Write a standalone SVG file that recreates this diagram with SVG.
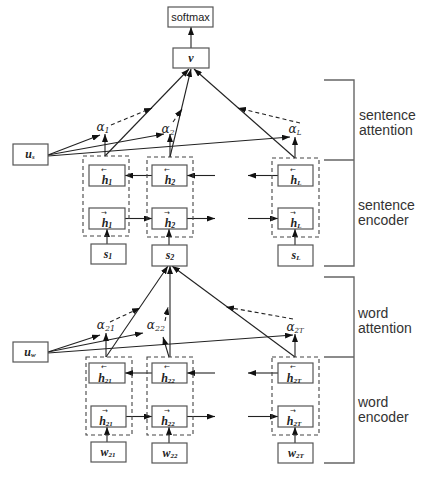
<svg xmlns="http://www.w3.org/2000/svg" width="430" height="478" viewBox="0 0 430 478">
<defs>
<marker id="ah" markerWidth="8" markerHeight="6" refX="8" refY="3" orient="auto" markerUnits="userSpaceOnUse">
<path d="M0,0 L8,3 L0,6 z" fill="#111"/>
</marker>
<style>
.box{fill:#fff;stroke:#555;stroke-width:1.2}
.dbox{fill:none;stroke:#444;stroke-width:1.1;stroke-dasharray:4,3}
.ln{stroke:#222;stroke-width:1.1;fill:none;marker-end:url(#ah)}
.dl{stroke:#222;stroke-width:1.1;fill:none;stroke-dasharray:4,3;marker-end:url(#ah)}
.br{stroke:#666;stroke-width:1.4;fill:none}
.m{font-family:"Liberation Serif","DejaVu Serif",serif;font-style:italic;font-weight:bold;font-size:12px;fill:#222;text-anchor:middle}
.ar{font-family:"DejaVu Sans",sans-serif;font-style:normal;font-weight:normal;font-size:7px}
.a{font-family:"DejaVu Serif","Liberation Serif",serif;font-style:italic;font-size:12px;fill:#222;text-anchor:middle}
.s{font-family:"Liberation Sans",Arial,sans-serif;font-size:11px;fill:#222;text-anchor:middle}
.lab{font-family:"Liberation Sans",Arial,sans-serif;font-size:14px;fill:#333}
</style>
</defs>
<rect width="430" height="478" fill="#fff"/>

<g id="brackets">
<path class="br" d="M324,80 H354 V266 H324 M324,160 H354"/>
<path class="br" d="M324,277 H354 V463 H324 M324,357 H354"/>
<text class="lab"><tspan x="359" y="120">sentence</tspan><tspan x="359" y="135">attention</tspan></text>
<text class="lab"><tspan x="358" y="210">sentence</tspan><tspan x="358" y="225">encoder</tspan></text>
<text class="lab"><tspan x="358" y="318">word</tspan><tspan x="358" y="333">attention</tspan></text>
<text class="lab"><tspan x="358" y="407">word</tspan><tspan x="358" y="422">encoder</tspan></text>
</g>

<g id="connectors">
<line class="ln" x1="191" y1="48" x2="191" y2="27"/>
<line class="ln" x1="48" y1="155" x2="100" y2="135"/>
<line class="ln" x1="48" y1="155" x2="164" y2="134"/>
<line class="ln" x1="48" y1="156" x2="290" y2="137"/>
<line class="ln" x1="105" y1="156" x2="105" y2="134"/>
<line class="ln" x1="170" y1="157" x2="170" y2="134"/>
<line class="ln" x1="295" y1="158" x2="295" y2="137"/>
<line class="ln" x1="105" y1="156" x2="189" y2="69"/>
<line class="ln" x1="170" y1="157" x2="191" y2="69"/>
<line class="ln" x1="295" y1="158" x2="194" y2="69"/>
<line class="dl" x1="111" y1="125" x2="152" y2="108"/>
<line class="dl" x1="173" y1="122" x2="182" y2="109"/>
<line class="dl" x1="300" y1="123" x2="238" y2="108"/>
<line class="ln" x1="152" y1="175.5" x2="125" y2="175.5"/>
<line class="ln" x1="215" y1="175.5" x2="187" y2="175.5"/>
<line class="ln" x1="278" y1="175.5" x2="248" y2="175.5"/>
<line class="ln" x1="125" y1="218.5" x2="152" y2="218.5"/>
<line class="ln" x1="187" y1="218.5" x2="215" y2="218.5"/>
<line class="ln" x1="248" y1="218.5" x2="278" y2="218.5"/>
<line class="ln" x1="107" y1="244" x2="107" y2="229"/>
<line class="ln" x1="169" y1="245" x2="169" y2="229"/>
<line class="ln" x1="295" y1="245" x2="295" y2="229"/>
<line class="ln" x1="48" y1="352" x2="100" y2="335"/>
<line class="ln" x1="48" y1="352" x2="143" y2="333"/>
<line class="ln" x1="48" y1="353" x2="293" y2="335"/>
<line class="ln" x1="106" y1="357" x2="106" y2="333"/>
<line class="ln" x1="169" y1="357" x2="163" y2="337"/>
<line class="ln" x1="295" y1="357" x2="295" y2="334"/>
<line class="ln" x1="106" y1="357" x2="168" y2="266"/>
<line class="ln" x1="170" y1="357" x2="170" y2="266"/>
<line class="ln" x1="295" y1="357" x2="172" y2="266"/>
<line class="dl" x1="110" y1="322" x2="140" y2="308"/>
<line class="dl" x1="165" y1="321" x2="168" y2="307"/>
<line class="dl" x1="293" y1="319" x2="226" y2="307"/>
<line class="ln" x1="152" y1="373" x2="125" y2="373"/>
<line class="ln" x1="215" y1="373" x2="187" y2="373"/>
<line class="ln" x1="278" y1="373" x2="248" y2="373"/>
<line class="ln" x1="126" y1="416.5" x2="152" y2="416.5"/>
<line class="ln" x1="187" y1="416.5" x2="215" y2="416.5"/>
<line class="ln" x1="248" y1="416.5" x2="278" y2="416.5"/>
<line class="ln" x1="107" y1="442" x2="107" y2="427"/>
<line class="ln" x1="169" y1="443" x2="169" y2="427"/>
<line class="ln" x1="295" y1="443" x2="295" y2="427"/>
</g>

<g id="alphas">
<text class="a" x="103" y="131">α<tspan font-size="8" dy="2">1</tspan></text>
<text class="a" x="168" y="133">α<tspan font-size="8" dy="2">2</tspan></text>
<text class="a" x="295" y="133">α<tspan font-size="7" dy="2">L</tspan></text>
<text class="a" x="106" y="329">α<tspan font-size="8" dy="2">21</tspan></text>
<text class="a" x="156" y="329">α<tspan font-size="8" dy="2">22</tspan></text>
<text class="a" x="295" y="331">α<tspan font-size="7" dy="2">2T</tspan></text>
</g>

<g id="softmax"><rect class="box" x="168" y="7" width="45" height="20"/><text class="s" x="190.5" y="21">softmax</text></g>
<g id="v"><rect class="box" x="173" y="48" width="36" height="20"/><text class="m" x="191" y="62">v</text></g>
<g id="us"><rect class="box" x="13" y="144" width="35" height="21"/><text class="m" x="30" y="158">u<tspan font-size="7" dy="1">s</tspan></text></g>
<g id="uw"><rect class="box" x="13" y="342" width="35" height="20"/><text class="m" x="30" y="356">u<tspan font-size="7" dy="1">w</tspan></text></g>

<g id="col1"><rect class="dbox" x="83" y="156" width="46" height="80"/></g>
<g id="col2"><rect class="dbox" x="147" y="157" width="46" height="80"/></g>
<g id="colL"><rect class="dbox" x="272" y="158" width="47" height="79"/></g>

<g id="h1b"><rect class="box" x="89" y="165" width="36" height="21"/><text class="m"><tspan class="ar" x="104" y="172">←</tspan><tspan x="107" y="183.5">h</tspan><tspan font-size="8" dy="1">1</tspan></text></g>
<g id="h1f"><rect class="box" x="89" y="208" width="36" height="21"/><text class="m"><tspan class="ar" x="104" y="215">→</tspan><tspan x="107" y="226.5">h</tspan><tspan font-size="8" dy="1">1</tspan></text></g>
<g id="s1"><rect class="box" x="91" y="244" width="35" height="20"/><text class="m" x="108" y="258">s<tspan font-size="8" dy="1">1</tspan></text></g>

<g id="h2b"><rect class="box" x="152" y="165" width="35" height="21"/><text class="m"><tspan class="ar" x="167" y="172">←</tspan><tspan x="170" y="183.5">h</tspan><tspan font-size="8" dy="1">2</tspan></text></g>
<g id="h2f"><rect class="box" x="152" y="208" width="35" height="21"/><text class="m"><tspan class="ar" x="167" y="215">→</tspan><tspan x="170" y="226.5">h</tspan><tspan font-size="8" dy="1">2</tspan></text></g>
<g id="s2"><rect class="box" x="152" y="245" width="35" height="21"/><text class="m" x="170" y="259">s<tspan font-size="8" dy="1">2</tspan></text></g>

<g id="hLb"><rect class="box" x="278" y="165" width="35" height="21"/><text class="m"><tspan class="ar" x="293" y="172">←</tspan><tspan x="296" y="183.5">h</tspan><tspan font-size="7" dy="1">L</tspan></text></g>
<g id="hLf"><rect class="box" x="278" y="208" width="35" height="21"/><text class="m"><tspan class="ar" x="293" y="215">→</tspan><tspan x="296" y="226.5">h</tspan><tspan font-size="7" dy="1">L</tspan></text></g>
<g id="sL"><rect class="box" x="278" y="245" width="35" height="21"/><text class="m" x="296" y="259">s<tspan font-size="7" dy="1">L</tspan></text></g>

<g id="col21"><rect class="dbox" x="86" y="357" width="46" height="78"/></g>
<g id="col22"><rect class="dbox" x="147" y="357" width="46" height="78"/></g>
<g id="col2T"><rect class="dbox" x="272" y="357" width="47" height="78"/></g>

<g id="h21b"><rect class="box" x="89" y="363" width="36" height="20"/><text class="m" font-size="11.5"><tspan class="ar" x="104" y="369">←</tspan><tspan x="105" y="381.5">h</tspan><tspan font-size="7" dy="1">21</tspan></text></g>
<g id="h21f"><rect class="box" x="91" y="406" width="35" height="21"/><text class="m"><tspan class="ar" x="105" y="413">→</tspan><tspan x="106" y="424.5">h</tspan><tspan font-size="7" dy="1">21</tspan></text></g>
<g id="w21"><rect class="box" x="91" y="442" width="35" height="20"/><text class="m" x="108" y="456">w<tspan font-size="7" dy="1">21</tspan></text></g>

<g id="h22b"><rect class="box" x="152" y="363" width="35" height="20"/><text class="m" font-size="11.5"><tspan class="ar" x="167" y="369">←</tspan><tspan x="168" y="381.5">h</tspan><tspan font-size="7" dy="1">22</tspan></text></g>
<g id="h22f"><rect class="box" x="152" y="406" width="35" height="21"/><text class="m"><tspan class="ar" x="167" y="413">→</tspan><tspan x="168" y="424.5">h</tspan><tspan font-size="7" dy="1">22</tspan></text></g>
<g id="w22"><rect class="box" x="152" y="443" width="35" height="20"/><text class="m" x="170" y="457">w<tspan font-size="7" dy="1">22</tspan></text></g>

<g id="h2Tb"><rect class="box" x="278" y="363" width="35" height="20"/><text class="m" font-size="11.5"><tspan class="ar" x="293" y="369">←</tspan><tspan x="294" y="381.5">h</tspan><tspan font-size="7" dy="1">2T</tspan></text></g>
<g id="h2Tf"><rect class="box" x="278" y="406" width="35" height="21"/><text class="m"><tspan class="ar" x="293" y="413">→</tspan><tspan x="294" y="424.5">h</tspan><tspan font-size="7" dy="1">2T</tspan></text></g>
<g id="w2T"><rect class="box" x="278" y="443" width="35" height="20"/><text class="m" x="296" y="457">w<tspan font-size="7" dy="1">2T</tspan></text></g>
</svg>
